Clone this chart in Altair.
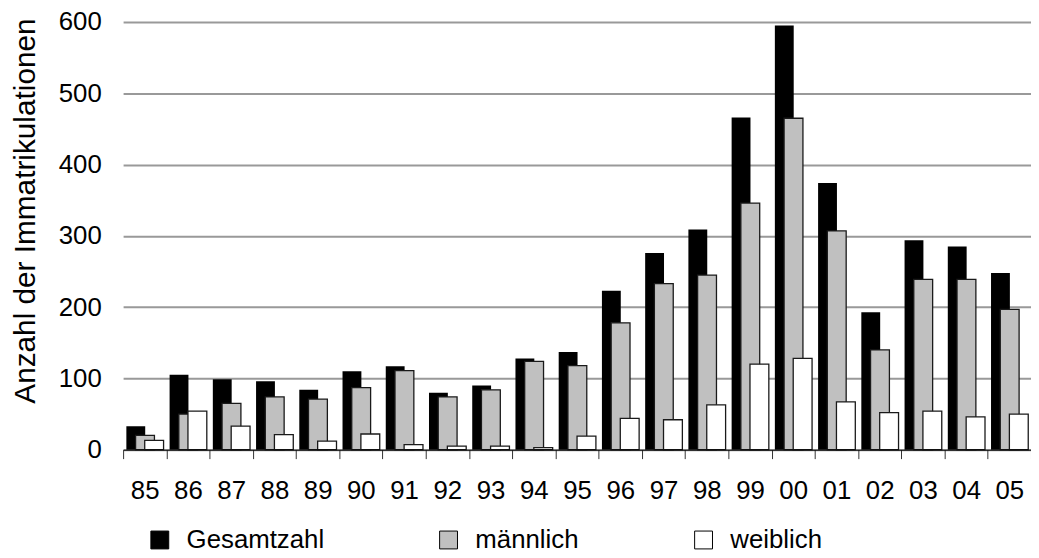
import altair as alt
import pandas as pd

years = ["85", "86", "87", "88", "89", "90", "91", "92", "93", "94", "95",
         "96", "97", "98", "99", "00", "01", "02", "03", "04", "05"]
gesamtzahl = [33, 105, 99, 96, 84, 110, 117, 80, 90, 128, 137,
              223, 276, 309, 466, 595, 374, 193, 294, 285, 248]
maennlich = [20, 50, 65, 74, 71, 87, 111, 74, 84, 124, 118,
             178, 233, 245, 346, 465, 307, 140, 239, 239, 197]
weiblich = [13, 54, 33, 21, 12, 22, 7, 5, 5, 3, 19,
            44, 42, 63, 120, 128, 67, 52, 54, 46, 50]
series = ["Gesamtzahl", "männlich", "weiblich"]
colors = ["#000000", "#c0c0c0", "#ffffff"]
y_ticks = [0, 100, 200, 300, 400, 500, 600]

rows = []
for s, vals in zip(series, [gesamtzahl, maennlich, weiblich]):
    for yr, v in zip(years, vals):
        rows.append({"Jahr": yr, "Serie": s, "Anzahl": v})
df = pd.DataFrame(rows)

FONT = "Liberation Sans"

x = alt.X(
    "Jahr:N", sort=years,
    scale=alt.Scale(paddingInner=0, paddingOuter=0),
    axis=alt.Axis(title=None, labelAngle=0, labelFontSize=26, labelFont=FONT,
                  labelColor="black", tickBand="extent", tickSize=9,
                  tickColor="#333333", domainColor="#000000", labelPadding=19,
                  grid=False, zindex=1),
)
y = alt.Y(
    "Anzahl:Q",
    scale=alt.Scale(domain=[0, 600], nice=False),
    axis=alt.Axis(values=y_ticks, title="Anzahl der Immatrikulationen",
                  domain=False, ticks=False, labelPadding=22, labelFontSize=26,
                  labelFont=FONT, labelColor="black", gridColor="#999999",
                  gridWidth=2, gridOpacity=1, titleFontSize=30, titleFont=FONT,
                  titleFontWeight="normal", titleColor="black", titleAngle=270,
                  titleX=-89, titleY=190, titleAlign="center",
                  titleBaseline="alphabetic"),
)
color = alt.Color(
    "Serie:N",
    scale=alt.Scale(domain=series, range=colors),
    legend=alt.Legend(title=None, orient="none", legendX=24, legendY=509,
                      direction="horizontal", symbolType="square",
                      symbolSize=324, symbolStrokeColor="black",
                      symbolStrokeWidth=1, labelFontSize=26, labelFont=FONT,
                      labelColor="black", labelOffset=14, columnPadding=112,
                      padding=0),
)

offsets = [-9, 0.3, 9.5]
layers = []
for s, off in zip(series, offsets):
    kw = dict(width=19, xOffset=off)
    if s != "Gesamtzahl":
        kw.update(stroke="#1a1a1a", strokeWidth=1.3)
    layers.append(
        alt.Chart(df).transform_filter(alt.datum.Serie == s)
        .mark_bar(**kw).encode(x=x, y=y, color=color)
    )

chart = (
    alt.layer(*layers)
    .properties(width=915, height=431, autosize="none",
                padding={"left": 116, "top": 12, "right": 0, "bottom": 107})
    .configure_view(stroke=None)
)

chart.save("out.html", embed_options={"renderer": "svg", "actions": False})
